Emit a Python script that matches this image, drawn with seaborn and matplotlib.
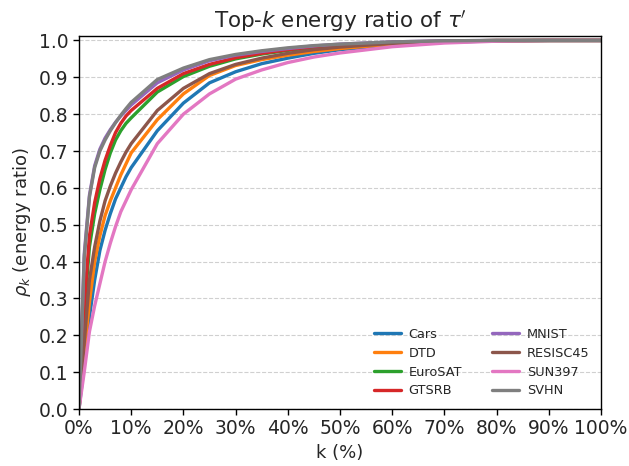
import numpy as np
import pandas as pd
import matplotlib
matplotlib.use("Agg")
import matplotlib.pyplot as plt
import matplotlib.ticker as mticker
import seaborn as sns

# ── Data ─────────────────────────────────────────────────────────────────────
k_pct = [0, 1, 2, 3, 4, 5, 6, 7, 8, 9, 10, 15, 20, 25, 30, 35, 40, 45, 50, 60, 70, 80, 90, 100]

cars     = [0, 0.12, 0.25, 0.35, 0.43, 0.485, 0.53, 0.57, 0.60, 0.63, 0.655, 0.755, 0.83, 0.885, 0.915, 0.937, 0.952, 0.965, 0.975, 0.988, 0.995, 0.999, 1.0, 1.0]
dtd      = [0, 0.15, 0.29, 0.40, 0.47, 0.525, 0.565, 0.60, 0.635, 0.665, 0.695, 0.785, 0.855, 0.905, 0.932, 0.948, 0.96, 0.97, 0.978, 0.99, 0.996, 0.999, 1.0, 1.0]
eurosat  = [0, 0.26, 0.44, 0.53, 0.595, 0.65, 0.695, 0.73, 0.755, 0.775, 0.79, 0.86, 0.902, 0.93, 0.95, 0.963, 0.973, 0.981, 0.987, 0.994, 0.998, 1.0, 1.0, 1.0]
gtsrb    = [0, 0.28, 0.47, 0.56, 0.625, 0.675, 0.715, 0.75, 0.775, 0.795, 0.81, 0.87, 0.91, 0.935, 0.953, 0.965, 0.975, 0.983, 0.988, 0.995, 0.998, 1.0, 1.0, 1.0]
mnist    = [0, 0.42, 0.58, 0.66, 0.705, 0.735, 0.758, 0.778, 0.795, 0.81, 0.825, 0.885, 0.92, 0.945, 0.96, 0.97, 0.978, 0.985, 0.99, 0.996, 0.999, 1.0, 1.0, 1.0]
resisc45 = [0, 0.18, 0.35, 0.44, 0.51, 0.565, 0.605, 0.64, 0.67, 0.697, 0.72, 0.81, 0.87, 0.91, 0.935, 0.952, 0.965, 0.975, 0.982, 0.992, 0.997, 0.999, 1.0, 1.0]
sun397   = [0, 0.10, 0.21, 0.28, 0.34, 0.40, 0.45, 0.495, 0.535, 0.565, 0.595, 0.72, 0.80, 0.855, 0.895, 0.92, 0.94, 0.955, 0.966, 0.983, 0.993, 0.998, 1.0, 1.0]
svhn     = [0, 0.41, 0.575, 0.655, 0.70, 0.73, 0.755, 0.777, 0.797, 0.815, 0.832, 0.894, 0.925, 0.948, 0.962, 0.972, 0.98, 0.986, 0.99, 0.996, 0.999, 1.0, 1.0, 1.0]

datasets = ["Cars", "DTD", "EuroSAT", "GTSRB", "MNIST", "RESISC45", "SUN397", "SVHN"]
series = [cars, dtd, eurosat, gtsrb, mnist, resisc45, sun397, svhn]

df = pd.concat(
    [pd.DataFrame({"k": k_pct, "rho": vals, "dataset": name}) for name, vals in zip(datasets, series)],
    ignore_index=True,
)

# ── Style ────────────────────────────────────────────────────────────────────
sns.set_style("ticks")
plt.rcParams["font.family"] = ["DejaVu Sans"]
palette = dict(zip(datasets, sns.color_palette("tab10", 8)))

fig, ax = plt.subplots(figsize=(6.29, 4.66), dpi=100)
fig.subplots_adjust(left=0.1256, right=0.9555, top=0.9227, bottom=0.1223)

sns.lineplot(data=df, x="k", y="rho", hue="dataset", hue_order=datasets,
             palette=palette, linewidth=2.4, ax=ax, legend=True)

ax.set_xlim(0, 100)
ax.set_ylim(0, 1.012)
ax.set_xticks(np.arange(0, 101, 10))
ax.set_yticks(np.arange(0, 1.01, 0.1))
ax.xaxis.set_major_formatter(mticker.FuncFormatter(lambda v, _: f"{v:.0f}%"))
ax.yaxis.set_major_formatter(mticker.FormatStrFormatter("%.1f"))
ax.tick_params(axis="both", labelsize=13.5, direction="out", length=4, width=1, color="black")
ax.yaxis.grid(True, linestyle="--", color="#d0d0d0", linewidth=0.8)
ax.xaxis.grid(False)
for s in ax.spines.values():
    s.set_color("black")
    s.set_linewidth(1.0)

ax.set_xlabel("k (%)", fontsize=13)
ax.set_ylabel(r"$\rho_k$ (energy ratio)", fontsize=13)
ax.set_title(r"Top-$k$ energy ratio of $\tau'$", fontsize=15.5)

ax.legend(title=None, ncol=2, frameon=False, fontsize=9.3, loc="lower right",
          handlelength=2.1, handletextpad=0.6, columnspacing=2.3,
          labelspacing=0.45, borderaxespad=0.5)

fig.savefig("out.png", dpi=100)
